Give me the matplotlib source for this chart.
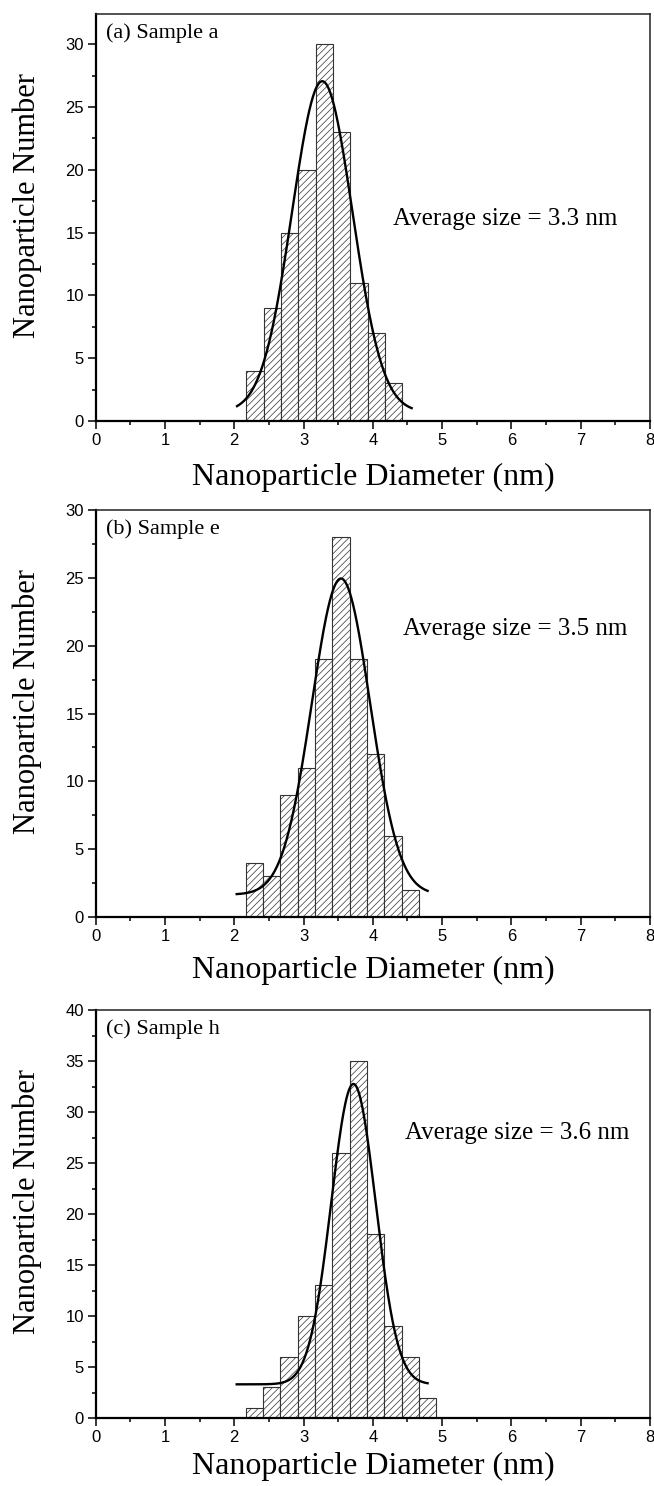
import matplotlib
matplotlib.use("Agg")
import matplotlib.pyplot as plt
import numpy as np
from matplotlib import font_manager as fm
from matplotlib.ticker import MultipleLocator

# ---------------- data ----------------
bin_width = 0.25
bin_centers_a = [2.30, 2.55, 2.80, 3.05, 3.30, 3.55, 3.80, 4.05, 4.30]
counts_a = [4, 9, 15, 20, 30, 23, 11, 7, 3]

bin_centers_b = [2.29, 2.54, 2.79, 3.04, 3.29, 3.54, 3.79, 4.04, 4.29, 4.54]
counts_b = [4, 3, 9, 11, 19, 28, 19, 12, 6, 2]

bin_centers_c = [2.29, 2.54, 2.79, 3.04, 3.29, 3.54, 3.79, 4.04, 4.29, 4.54, 4.79]
counts_c = [1, 3, 6, 10, 13, 26, 35, 18, 9, 6, 2]

# Gaussian fit parameters: baseline, centre, sigma, height, x-range
fit_a = dict(y0=0.7, xc=3.27, sigma=0.435, height=26.35, xmin=2.04, xmax=4.56)
fit_b = dict(y0=1.65, xc=3.54, sigma=0.42, height=23.3, xmin=2.035, xmax=4.79)
fit_c = dict(y0=3.3, xc=3.72, sigma=0.32, height=29.45, xmin=2.035, xmax=4.79)

panel_labels = ["(a) Sample a", "(b) Sample e", "(c) Sample h"]
avg_labels = ["Average size = 3.3 nm", "Average size = 3.5 nm", "Average size = 3.6 nm"]
ylims = [32.4, 30, 40]
xlabel = "Nanoparticle Diameter (nm)"
ylabel = "Nanoparticle Number"

# ---------------- style ----------------
avail = {f.name for f in fm.fontManager.ttflist}
tick_font = "Liberation Sans Narrow" if "Liberation Sans Narrow" in avail else "Liberation Sans"
serif = "Liberation Serif"
plt.rcParams["hatch.linewidth"] = 0.5
plt.rcParams["hatch.color"] = "#555555"

W, H = 654, 1486
fig = plt.figure(figsize=(W / 100, H / 100), dpi=100)

# axes pixel boxes: left, right, top, bottom
boxes = [(95.7, 650, 14, 421), (95.7, 650, 510, 917), (95.7, 650, 1010, 1418)]
avg_pos = [(4.29, 16.1), (4.43, 21.2), (4.47, 27.9)]
xlabel_y = [477, 970, 1466]

data = [(bin_centers_a, counts_a, fit_a),
        (bin_centers_b, counts_b, fit_b),
        (bin_centers_c, counts_c, fit_c)]

for i, ((centers, counts, fit), (l, r, t, b)) in enumerate(zip(data, boxes)):
    ax = fig.add_axes([l / W, 1 - b / H, (r - l) / W, (b - t) / H])
    ax.bar(centers, counts, width=bin_width, color="white", edgecolor="#333333",
           linewidth=0.8, hatch="/////", zorder=2)
    xs = np.linspace(fit["xmin"], fit["xmax"], 300)
    ys = fit["y0"] + fit["height"] * np.exp(-0.5 * ((xs - fit["xc"]) / fit["sigma"]) ** 2)
    ax.plot(xs, ys, color="black", linewidth=1.7, zorder=3)

    ax.set_xlim(0, 8)
    ax.set_ylim(0, ylims[i])
    ax.xaxis.set_major_locator(MultipleLocator(1))
    ax.xaxis.set_minor_locator(MultipleLocator(0.5))
    ax.yaxis.set_major_locator(MultipleLocator(5))
    ax.yaxis.set_minor_locator(MultipleLocator(2.5))
    ax.tick_params(which="major", direction="out", length=5.5, width=1.1,
                   labelsize=12, pad=3)
    ax.tick_params(which="minor", direction="out", length=3.2, width=1.1)
    for lab in ax.get_xticklabels() + ax.get_yticklabels():
        lab.set_fontfamily(tick_font)
    for s in ["left", "bottom"]:
        ax.spines[s].set_linewidth(1.6)
        ax.spines[s].set_color("black")
    for s in ["top", "right"]:
        ax.spines[s].set_linewidth(1.1)
        ax.spines[s].set_color("#222222")

    ax.set_xlabel(xlabel, fontfamily=serif, fontsize=23)
    ax.xaxis.set_label_coords(0.5, (b - xlabel_y[i]) / (b - t))
    ax.xaxis.label.set_va("center")
    ax.set_ylabel(ylabel, fontfamily=serif, fontsize=22)
    ax.yaxis.set_label_coords((27 - l) / (r - l), 0.53)
    ax.yaxis.label.set_va("center")

    ax.text(10 / (r - l), 1 - 19 / (b - t), panel_labels[i], transform=ax.transAxes,
            fontfamily=serif, fontsize=16, ha="left", va="center")
    ax.text(avg_pos[i][0], avg_pos[i][1], avg_labels[i], fontfamily=serif,
            fontsize=18, ha="left", va="center")

fig.savefig("out.png", dpi=100)
